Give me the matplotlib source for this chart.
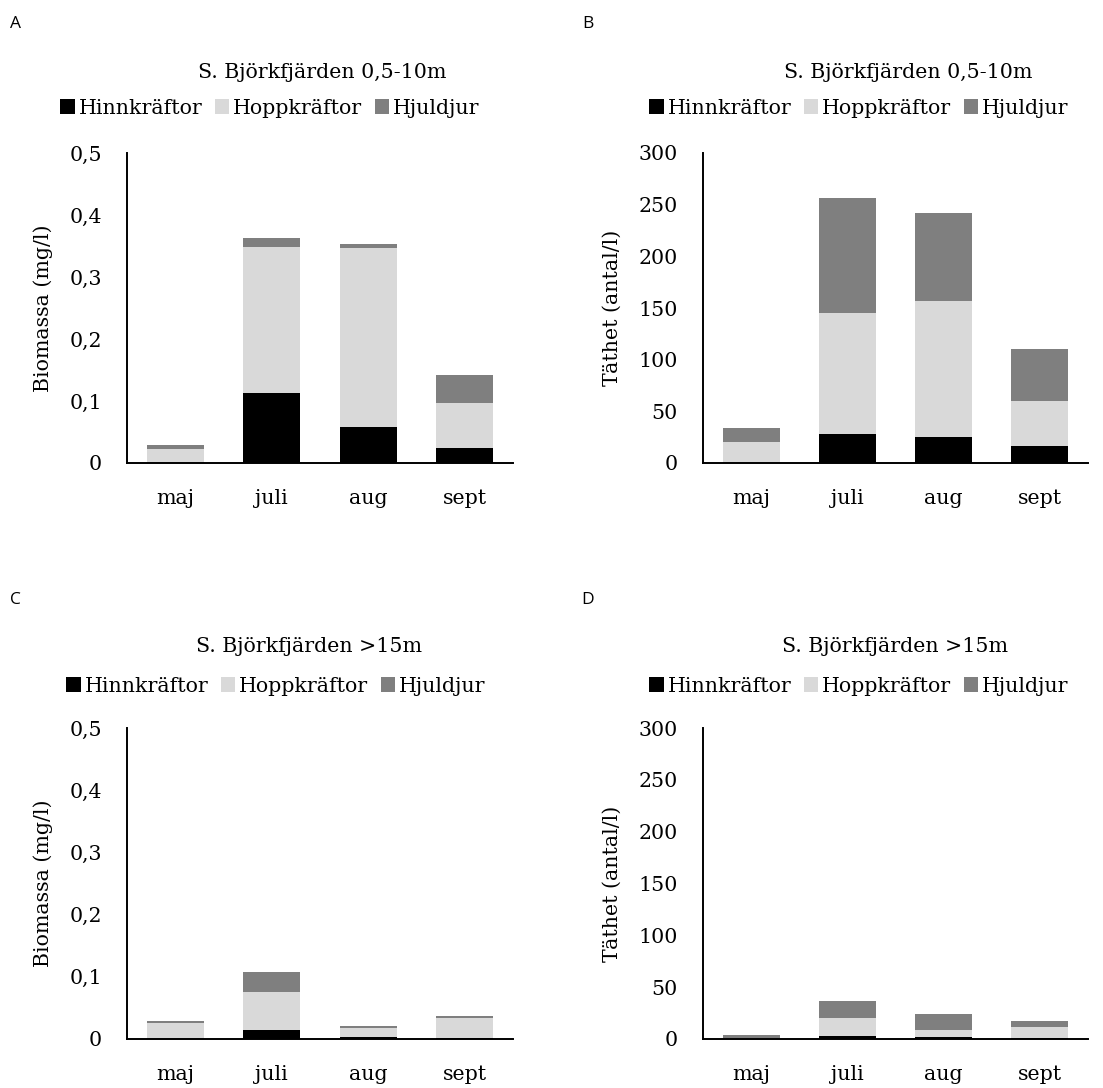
import matplotlib
matplotlib.use("Agg")
import matplotlib.pyplot as plt
import numpy as np

# Months and group names
months = ["maj", "juli", "aug", "sept"]
groups = ["Hinnkräftor", "Hoppkräftor", "Hjuldjur"]
colors = ["#000000", "#d9d9d9", "#7f7f7f"]

# A: biomass 0,5-10 m (mg/l)
bio_shallow_hinn = [0.0, 0.113, 0.058, 0.024]
bio_shallow_hopp = [0.022, 0.236, 0.288, 0.072]
bio_shallow_hjul = [0.007, 0.014, 0.007, 0.046]

# B: density 0,5-10 m (antal/l)
dens_shallow_hinn = [0.0, 28.0, 25.0, 16.0]
dens_shallow_hopp = [20.0, 117.5, 132.0, 44.0]
dens_shallow_hjul = [13.5, 111.0, 85.0, 50.5]

# C: biomass >15 m (mg/l)
bio_deep_hinn = [0.0, 0.0145, 0.004, 0.001]
bio_deep_hopp = [0.025, 0.0615, 0.014, 0.032]
bio_deep_hjul = [0.0035, 0.031, 0.0035, 0.004]

# D: density >15 m (antal/l)
dens_deep_hinn = [0.0, 3.0, 2.0, 0.5]
dens_deep_hopp = [0.5, 17.5, 7.0, 11.0]
dens_deep_hjul = [3.0, 16.0, 15.5, 6.0]

bio_ticks = [0, 0.1, 0.2, 0.3, 0.4, 0.5]
bio_ticklabels = ["0", "0,1", "0,2", "0,3", "0,4", "0,5"]
dens_ticks = [0, 50, 100, 150, 200, 250, 300]
dens_ticklabels = ["0", "50", "100", "150", "200", "250", "300"]

SERIF = "DejaVu Serif"
FS = 14.8

W, H = 1103, 1088
fig = plt.figure(figsize=(W / 100, H / 100), dpi=100)


def px_axes(left, top, right, bottom):
    return fig.add_axes([left / W, 1 - bottom / H, (right - left) / W, (bottom - top) / H])


panels = [
    dict(letter="A", box=(127, 153, 513, 463), data=(bio_shallow_hinn, bio_shallow_hopp, bio_shallow_hjul),
         ticks=bio_ticks, labels=bio_ticklabels, ylim=0.5, ylabel="Biomassa (mg/l)",
         title="S. Björkfjärden 0,5-10m", letter_xy=(15, 24), title_xy=(322, 72), leg_xy=(270, 108)),
    dict(letter="B", box=(703, 153, 1088, 463), data=(dens_shallow_hinn, dens_shallow_hopp, dens_shallow_hjul),
         ticks=dens_ticks, labels=dens_ticklabels, ylim=300, ylabel="Täthet (antal/l)",
         title="S. Björkfjärden 0,5-10m", letter_xy=(588, 24), title_xy=(908, 72), leg_xy=(859, 108)),
    dict(letter="C", box=(127, 728, 513, 1039), data=(bio_deep_hinn, bio_deep_hopp, bio_deep_hjul),
         ticks=bio_ticks, labels=bio_ticklabels, ylim=0.5, ylabel="Biomassa (mg/l)",
         title="S. Björkfjärden >15m", letter_xy=(15, 600), title_xy=(309, 647), leg_xy=(276, 686)),
    dict(letter="D", box=(703, 728, 1088, 1039), data=(dens_deep_hinn, dens_deep_hopp, dens_deep_hjul),
         ticks=dens_ticks, labels=dens_ticklabels, ylim=300, ylabel="Täthet (antal/l)",
         title="S. Björkfjärden >15m", letter_xy=(588, 600), title_xy=(895, 647), leg_xy=(859, 686)),
]

x = np.arange(len(months))
for p in panels:
    ax = px_axes(*p["box"])
    bottom = np.zeros(len(months))
    handles = []
    for vals, c, g in zip(p["data"], colors, groups):
        bars = ax.bar(x, vals, width=0.59, bottom=bottom, color=c, label=g, linewidth=0)
        handles.append(bars)
        bottom += np.array(vals)
    ax.set_xlim(-0.5, len(months) - 0.5)
    ax.set_ylim(0, p["ylim"])
    ax.set_yticks(p["ticks"])
    ax.set_yticklabels(p["labels"], fontfamily=SERIF, fontsize=FS)
    ax.set_xticks(x)
    ax.set_xticklabels(months, fontfamily=SERIF, fontsize=FS)
    ax.tick_params(axis="both", length=0)
    ax.tick_params(axis="y", pad=18)
    ax.tick_params(axis="x", pad=19)
    for s in ("top", "right"):
        ax.spines[s].set_visible(False)
    for s in ("left", "bottom"):
        ax.spines[s].set_linewidth(1.4)
        ax.spines[s].set_color("black")
    ax.set_ylabel(p["ylabel"], fontfamily=SERIF, fontsize=FS, labelpad=12)

    fig.text(p["letter_xy"][0] / W, 1 - p["letter_xy"][1] / H, p["letter"],
             fontfamily="Open Sans", fontsize=12.5, ha="center", va="center")
    fig.text(p["title_xy"][0] / W, 1 - p["title_xy"][1] / H, p["title"],
             fontfamily=SERIF, fontsize=FS, ha="center", va="center")
    fig.legend(handles=handles, labels=groups, loc="center",
               bbox_to_anchor=(p["leg_xy"][0] / W, 1 - p["leg_xy"][1] / H),
               ncol=3, frameon=False, prop={"family": SERIF, "size": FS},
               handlelength=0.7, handleheight=0.7, handletextpad=0.2,
               columnspacing=0.6, borderpad=0, borderaxespad=0)

fig.savefig("out.png", dpi=100, facecolor="white")
